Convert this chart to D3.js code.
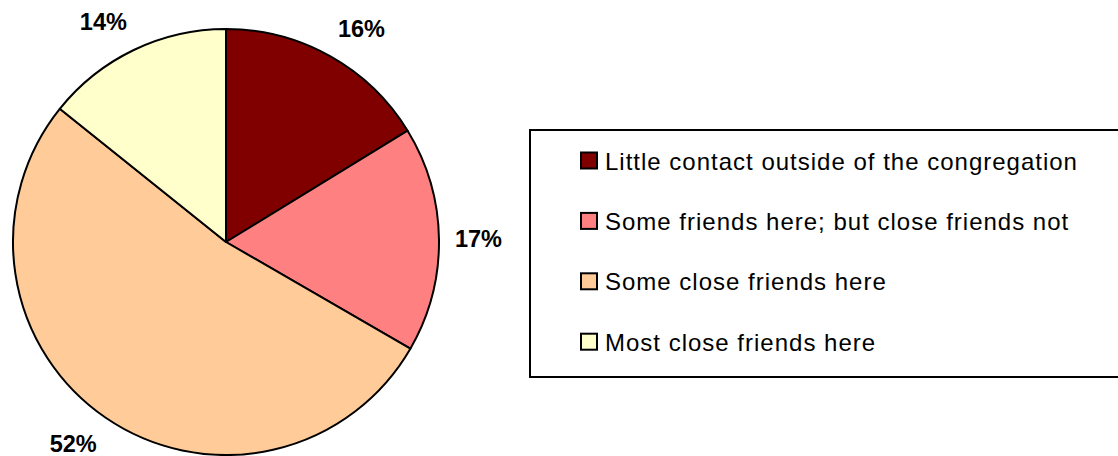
<!DOCTYPE html>
<html>
<head>
<meta charset="utf-8">
<script src="https://cdn.jsdelivr.net/npm/d3@7"></script>
<style>
  html, body { margin: 0; padding: 0; background: #fff; }
  svg { display: block; font-family: "Liberation Sans", Arial, sans-serif; }
</style>
</head>
<body>
<svg id="chart" width="1118" height="456"></svg>
<script>
const categories = [
  "Little contact outside of the congregation",
  "Some friends here; but close friends not",
  "Some close friends here",
  "Most close friends here"
];
const values = [16.25, 17.1, 52.4, 14.25];
const labels = ["16%", "17%", "52%", "14%"];
const colors = ["#800000", "#FF8080", "#FFCC99", "#FFFFCC"];

const svg = d3.select("#chart");
const cx = 226, cy = 242, r = 213;

const pie = d3.pie().sort(null).value(d => d)(values);
const arc = d3.arc().innerRadius(0).outerRadius(r);

const g = svg.append("g").attr("transform", `translate(${cx},${cy})`);
g.selectAll("path.slice").data(pie).enter().append("path")
  .attr("class", "slice")
  .attr("d", arc)
  .attr("fill", (d, i) => colors[i])
  .attr("stroke", "#000")
  .attr("stroke-width", 2)
  .attr("stroke-linejoin", "round");

// data labels
const R = 229, h = 17;
g.selectAll("text.lbl").data(pie).enter().append("text")
  .attr("class", "lbl")
  .attr("font-size", "23.5px")
  .attr("font-weight", "bold")
  .attr("fill", "#000")
  .attr("text-anchor", "middle")
  .text((d, i) => labels[i])
  .each(function(d) {
    const t = (d.startAngle + d.endAngle) / 2;
    const w = this.getComputedTextLength();
    const s = Math.sin(t), c = Math.cos(t);
    const x = R * s + Math.sign(s) * w / 2;
    const y = -(R + 7) * c - c * h / 2;
    d3.select(this).attr("x", x).attr("y", y + h / 2);
  });

// legend
const lg = svg.append("g");
lg.append("rect")
  .attr("x", 530).attr("y", 130)
  .attr("width", 620).attr("height", 247)
  .attr("fill", "#fff").attr("stroke", "#000").attr("stroke-width", 2);

const rowY = d3.scalePoint().domain(d3.range(categories.length)).range([169.5, 350.7]);
const items = lg.selectAll("g.item").data(categories).enter().append("g")
  .attr("class", "item")
  .attr("transform", (d, i) => `translate(0,${rowY(i)})`);
items.append("rect")
  .attr("x", 581).attr("y", -17)
  .attr("width", 16).attr("height", 16)
  .attr("fill", (d, i) => colors[i])
  .attr("stroke", "#000").attr("stroke-width", 2);
items.append("text")
  .attr("x", 605).attr("y", 0)
  .attr("font-size", "24px")
  .attr("letter-spacing", "1px")
  .attr("fill", "#000")
  .text(d => d);
</script>
</body>
</html>
